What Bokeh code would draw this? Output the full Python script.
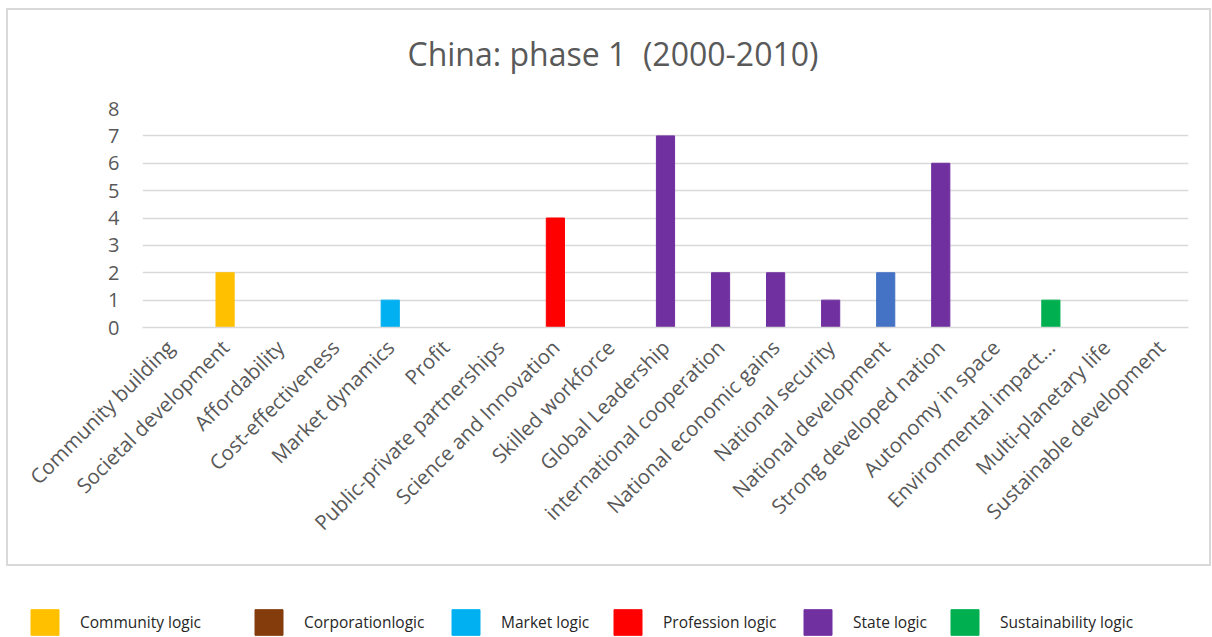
from math import pi
from bokeh.plotting import figure
from bokeh.layouts import column
from bokeh.models import (ColumnDataSource, Range1d, Legend, LegendItem,
                          SingleIntervalTicker, Title)
from bokeh.embed import file_html
from bokeh.resources import INLINE

categories = ["Community building", "Societal development", "Affordability",
              "Cost-effectiveness", "Market dynamics", "Profit",
              "Public-private partnerships", "Science and Innovation",
              "Skilled workforce", "Global Leadership", "international cooperation",
              "National economic gains", "National security", "National development",
              "Strong developed nation", "Autonomy in space", "Environmental impact...",
              "Multi-planetary life", "Sustainable development"]
counts = [0, 2, 0, 0, 1, 0, 0, 4, 0, 7, 2, 2, 1, 2, 6, 0, 1, 0, 0]
bar_colors = ["#FFC000", "#FFC000", "#00B0F0", "#00B0F0", "#00B0F0", "#00B0F0",
              "#00B0F0", "#FF0000", "#FF0000", "#7030A0", "#7030A0", "#7030A0",
              "#7030A0", "#4472C4", "#7030A0", "#7030A0", "#00B050", "#00B050",
              "#00B050"]
legend_labels = ["Community logic", "Corporationlogic", "Market logic",
                 "Profession logic", "State logic", "Sustainability logic"]
legend_colors = ["#FFC000", "#843C0C", "#00B0F0", "#FF0000", "#7030A0", "#00B050"]
title_text = "China: phase 1\u00a0 (2000-2010)"

TEXT = "#595959"
GRID = "#D9D9D9"
FONT = "Open Sans"

# chart canvas starts at page (8, 10) because of margin + 2px border
p = figure(x_range=categories, y_range=Range1d(0, 8), width=1205, height=558,
           output_backend="svg", toolbar_location=None,
           margin=(8, 0, 0, 6),
           styles={"border": "2px solid #D9D9D9"},
           min_border_left=134, min_border_right=25, min_border_top=98,
           min_border_bottom=241, title=title_text)
p.frame_align = False
p.outline_line_color = None
p.title.align = "left"
p.title.offset = 265
p.title.text_font = FONT
p.title.text_font_size = "32px"
p.title.text_font_style = "normal"
p.title.text_color = TEXT
p.title.standoff = 30

# thin spacer between the frame and the title
spacer = Title(text="\u00a0", text_font_size="10px", standoff=6)
p.add_layout(spacer, "above")

src = ColumnDataSource(dict(cat=categories, val=counts, color=bar_colors))
p.vbar(x="cat", top="val", width=0.33, color="color", source=src)

p.xgrid.grid_line_color = None
p.ygrid.grid_line_color = GRID
p.ygrid.grid_line_width = 1.5
p.yaxis.ticker = SingleIntervalTicker(interval=1)
p.yaxis.axis_line_color = None
p.yaxis.major_tick_line_color = None
p.yaxis.minor_tick_line_color = None
p.yaxis.major_label_text_font = FONT
p.yaxis.major_label_text_font_size = "20px"
p.yaxis.major_label_text_color = TEXT
p.yaxis.major_label_standoff = 17

p.xaxis.axis_line_color = GRID
p.xaxis.axis_line_width = 1.5
p.xaxis.major_tick_line_color = None
p.xaxis.minor_tick_line_color = None
p.xaxis.major_label_orientation = pi / 4
p.xaxis.major_label_text_font = FONT
p.xaxis.major_label_text_font_size = "20.5px"
p.xaxis.major_label_text_color = TEXT
p.xaxis.major_label_standoff = 10

# legend strip below the framed chart
lg_fig = figure(width=1212, height=71, output_backend="svg", toolbar_location=None,
                min_border=0, min_border_left=0, min_border_right=0,
                min_border_top=0, min_border_bottom=0,
                x_range=Range1d(0, 1), y_range=Range1d(0, 1))
lg_fig.frame_align = False
lg_fig.axis.visible = False
lg_fig.grid.visible = False
lg_fig.outline_line_color = None

legend_x = [27, 251, 448, 610, 800, 947]
for lab, col, lx in zip(legend_labels, legend_colors, legend_x):
    # one point placed outside the visible range so the legend swatch has a colour
    r = lg_fig.vbar(x=[5], top=[1], width=0.1, color=col)
    lg = Legend(items=[LegendItem(label=lab, renderers=[r])],
                location=(lx, -1), orientation="horizontal",
                glyph_width=35, glyph_height=32, label_standoff=18,
                padding=0, margin=0, border_line_color=None,
                background_fill_alpha=0, label_text_font=FONT,
                label_text_font_size="15.5px", label_text_color="#262626",
                label_height=32)
    lg_fig.add_layout(lg)

layout = column(p, lg_fig, spacing=0)
open("out.html", "w").write(file_html(layout, INLINE))
